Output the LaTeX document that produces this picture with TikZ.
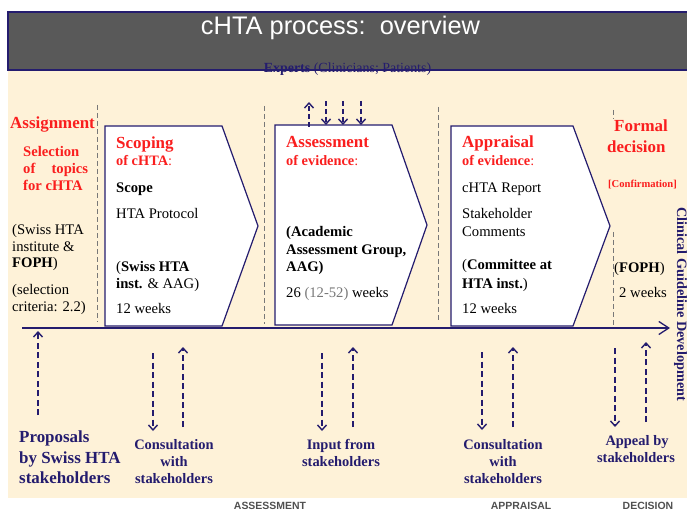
\documentclass[tikz,border=0pt]{standalone}
\usepackage{fontspec}
\setmainfont{Liberation Serif}
\newfontfamily\titlefont{Liberation Sans}
\usetikzlibrary{arrows.meta}
\definecolor{navy}{RGB}{36,28,110}
\definecolor{beige}{RGB}{254,242,216}
\definecolor{hdrgray}{RGB}{89,89,89}
\definecolor{redtxt}{RGB}{250,30,30}
\definecolor{dgray}{RGB}{120,120,120}
\definecolor{ftgray}{RGB}{80,80,80}
\definecolor{txtgray}{RGB}{120,120,120}
\begin{document}
\begin{tikzpicture}[x=1bp,y=-1bp,
  txt/.style={anchor=base west, inner sep=0pt, font=\fontsize{14.7}{17}\selectfont, text=black},
  redbig/.style={anchor=base west, inner sep=0pt, font=\fontsize{17}{20}\selectfont\bfseries, text=redtxt},
  redsmall/.style={anchor=base west, inner sep=0pt, font=\fontsize{14.4}{17}\selectfont\bfseries, text=redtxt},
  navylbl/.style={anchor=base, inner sep=0pt, font=\fontsize{14.5}{17}\selectfont\bfseries, text=navy},
  navybig/.style={anchor=base west, inner sep=0pt, font=\fontsize{17}{20}\selectfont\bfseries, text=navy},
  foot/.style={anchor=base, inner sep=0pt, font=\titlefont\bfseries\fontsize{10.5}{12}\selectfont, text=ftgray},
  chev/.style={draw=navy, fill=white, line width=1.2bp, line join=miter},
  sepline/.style={draw=dgray, line width=1bp, dash pattern=on 5bp off 3bp},
  darr/.style={draw=navy, line width=2bp, dash pattern=on 6bp off 3.5bp,
    -{Straight Barb[length=5bp,width=9bp,line width=1.4bp]}}
]
\useasboundingbox (0,0) rectangle (687,511);
% background
\fill[beige] (8,70) rectangle (690,498);
\fill[hdrgray] (8,12) rectangle (690,70);
\draw[navy, line width=1.2bp] (690,12) -- (8,12) -- (8,70) -- (690,70);
\node[anchor=base, inner sep=0pt, font=\titlefont\fontsize{25.5}{28}\selectfont, text=white] (title) at (340.5,35) {cHTA process:\ \ overview};
\node[anchor=base, inner sep=0pt, font=\fontsize{14}{16}\selectfont, text=navy] (experts) at (347.5,72.5) {\textbf{Experts} (Clinicians; Patients)};

% separators
\draw[sepline] (97,105) -- (97,322);
\draw[sepline] (264,106) -- (264,324);
\draw[sepline] (438,107) -- (438,323);
\draw[sepline] (613,110) -- (613,119);
\draw[sepline] (613,232) -- (613,328);

% chevrons
\draw[chev] (105,126) coordinate (b1) -- (222,126) -- (258,226) coordinate (b1tip) -- (222,326) -- (105,326) -- cycle;
\draw[chev] (275,125) coordinate (b2) -- (392,125) -- (427,225) coordinate (b2tip) -- (392,325) -- (275,325) -- cycle;
\draw[chev] (451,126) coordinate (b3) -- (573,126) -- (610,226) coordinate (b3tip) -- (573,326) -- (451,326) -- cycle;

% axis
\coordinate (axs) at (22,328);
\coordinate (axe) at (670,328);
\draw[navy, line width=1.3bp, -{Straight Barb[length=10bp,width=13bp,line width=1.3bp]}] (axs) -- (axe);

% left column
\node[redbig] (assign) at (10,129) {Assignment};
\node[redsmall, font=\fontsize{14.7}{17}\selectfont\bfseries] (sel1) at (23,157) {Selection};
\node[redsmall, font=\fontsize{14.7}{17}\selectfont\bfseries] (sel2) at (23,174) {\hbox to 65bp{of\hfill topics}};
\node[redsmall, font=\fontsize{14.7}{17}\selectfont\bfseries] (sel3) at (23,191) {for cHTA};
\node[txt] (l1) at (12,235) {(Swiss HTA};
\node[txt] (l2) at (12,252) {institute \&};
\node[txt] (l3) at (12,268) {\textbf{FOPH})};
\node[txt] (l4) at (12,294) {(selection};
\node[txt] (l5) at (12,311) {criteria: 2.2)};

% scoping
\node[redbig] (sc1) at (116,149) {Scoping};
\node[redsmall] (sc2) at (116,166) {of cHTA{\mdseries:}};
\node[txt] (sc3) at (116,193) {\textbf{Scope}};
\node[txt] (sc4) at (116,219) {HTA Protocol};
\node[txt] (sc5) at (116,272) {(\textbf{Swiss HTA}};
\node[txt] (sc6) at (116,288) {\textbf{inst.} \& AAG)};
\node[txt] (sc7) at (116,313) {12 weeks};

% assessment
\node[redbig] (as1) at (286,148) {Assessment};
\node[redsmall] (as2) at (286,166) {of evidence{\mdseries:}};
\node[txt] (as3) at (286,237) {\textbf{(Academic}};
\node[txt] (as4) at (286,255) {\textbf{Assessment Group,}};
\node[txt] (as5) at (286,272) {\textbf{AAG)}};
\node[txt] (as6) at (286,297) {26 \textcolor{txtgray}{(12-52)} weeks};

% appraisal
\node[redbig] (ap1) at (462,148) {Appraisal};
\node[redsmall] (ap2) at (462,166) {of evidence{\mdseries:}};
\node[txt] (ap3) at (462,193) {cHTA Report};
\node[txt] (ap4) at (462,219) {Stakeholder};
\node[txt] (ap5) at (462,237) {Comments};
\node[txt] (ap6) at (462,270) {(\textbf{Committee at}};
\node[txt] (ap7) at (462,288) {\textbf{HTA inst.})};
\node[txt] (ap8) at (462,313) {12 weeks};

% decision
\node[redbig] (fd1) at (614,132) {Formal};
\node[redbig] (fd2) at (607,153) {decision};
\node[redsmall, font=\fontsize{10.6}{12}\selectfont\bfseries] (fd3) at (608,188) {[Confirmation]};
\node[txt] (fd4) at (614,273) {(\textbf{FOPH})};
\node[txt] (fd5) at (619,297) {2 weeks};

% vertical label
\node[anchor=base west, rotate=-90, inner sep=0pt, font=\fontsize{14.3}{17}\selectfont\bfseries, text=navy] (cgd) at (677,207) {Clinical Guideline Development};

% expert arrows
\coordinate (e1s) at (309,127); \coordinate (e1e) at (309,102);
\draw[darr, dash pattern=on 5bp off 3bp] (e1s) -- (e1e);
\foreach \n/\x in {e2/326,e3/343,e4/361}{
  \coordinate (\n s) at (\x,101); \coordinate (\n e) at (\x,125);
  \draw[darr, dash pattern=on 5bp off 3bp] (\n s) -- (\n e);
}

% bottom arrows
\foreach \n/\x/\ya/\yb in {pr/38/415/331, c1d/153/353/431, c1u/183/427/347, ind/322/353/431, inu/353/427/347, c2d/482/352/430, c2u/513/427/347, apd/615/348/427, apu/646/422/342}{
  \coordinate (\n s) at (\x,\ya); \coordinate (\n e) at (\x,\yb);
  \draw[darr] (\n s) -- (\n e);
}

% bottom labels
\node[navybig] (p1) at (19,442) {Proposals};
\node[navybig] (p2) at (19,463) {by Swiss HTA};
\node[navybig] (p3) at (19,483) {stakeholders};
\node[navylbl] (k1) at (174,449) {Consultation};
\node[navylbl] (k2) at (174,466) {with};
\node[navylbl] (k3) at (174,483) {stakeholders};
\node[navylbl] (i1) at (341,449) {Input from};
\node[navylbl] (i2) at (341,466) {stakeholders};
\node[navylbl] (m1) at (503,449) {Consultation};
\node[navylbl] (m2) at (503,466) {with};
\node[navylbl] (m3) at (503,483) {stakeholders};
\node[navylbl] (a1) at (637,445) {Appeal by};
\node[navylbl] (a2) at (636,462) {stakeholders};

% footer
\node[foot] (f1) at (270,509.5) {ASSESSMENT};
\node[foot] (f2) at (521,509.5) {APPRAISAL};
\node[foot] (f3) at (648,509.5) {DECISION};
\end{tikzpicture}
\end{document}
